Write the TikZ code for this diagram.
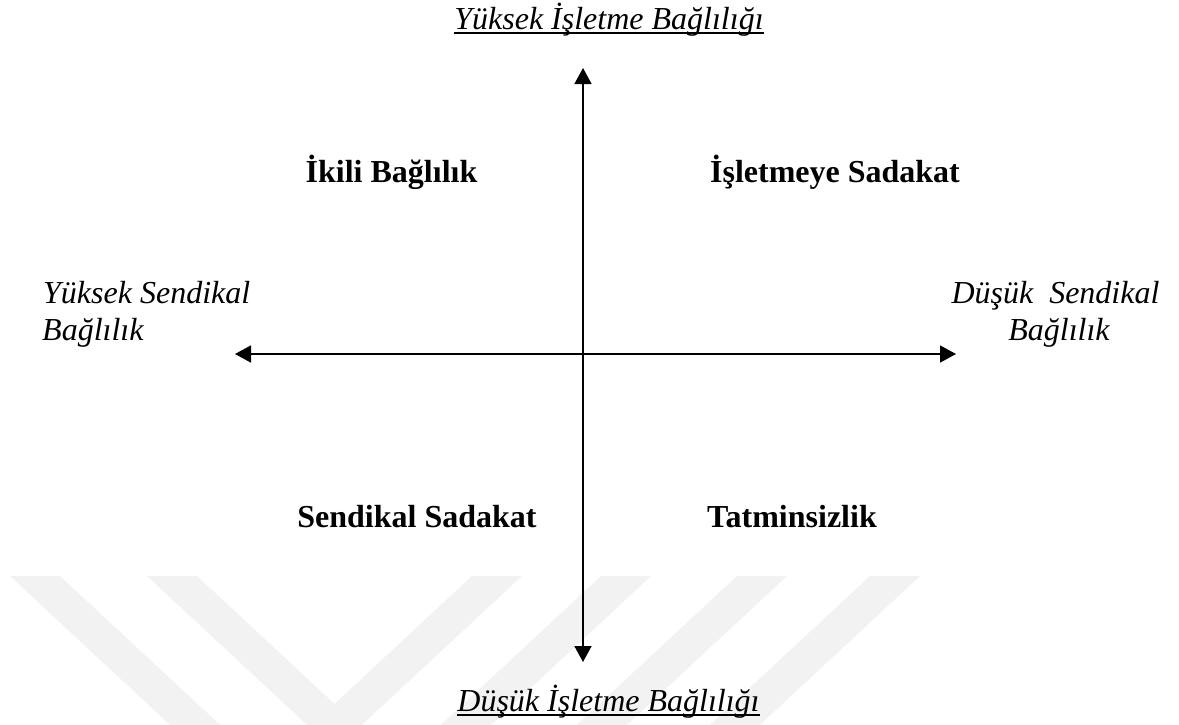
\documentclass[tikz,border=0pt]{standalone}
\usepackage{fontspec}
\setmainfont{Liberation Serif}
\usetikzlibrary{arrows.meta}

\tikzset{
  axis/.style={line width=1.6pt, {Triangle[length=16pt,width=17pt]}-{Triangle[length=16pt,width=17pt]}},
  quad/.style={anchor=base, inner sep=0pt, font=\fontsize{32}{37}\selectfont\bfseries},
  pole/.style={anchor=base, inner sep=0pt, font=\fontsize{32}{37}\selectfont\itshape},
  rule/.style={line width=1.5pt},
  mark stripe/.style={fill=black!5, draw=none}
}

\begin{document}
\begin{tikzpicture}[x=1pt, y=-1pt]
  \useasboundingbox (0,0) rectangle (1179,724);

  % faint background stripes
  \begin{scope}
    \clip (0,0) rectangle (1179,724);
    \foreach \s in {10,147}
      \fill[mark stripe] (\s,576) -- (\s+50,576) -- (\s+50+215,776) -- (\s+215,776) -- cycle;
    \foreach \s in {472,601,737,870}
      \fill[mark stripe] (\s,576) -- (\s+50,576) -- (\s+50-215,776) -- (\s-215,776) -- cycle;
  \end{scope}

  % axis end points
  \coordinate (top) at (583,68);
  \coordinate (bottom) at (583,662);
  \coordinate (left) at (235,354);
  \coordinate (right) at (956,354);

  \draw[axis] (bottom) -- (top);
  \draw[axis] (left) -- (right);

  % poles of the vertical axis
  \node[pole] (hiF) at (609,29) {Yüksek İşletme Bağlılığı};
  \draw[rule] ([yshift=-4pt]hiF.base west) -- ([yshift=-4pt]hiF.base east);
  \node[pole] (loF) at (608.5,711) {Düşük İşletme Bağlılığı};
  \draw[rule] ([yshift=-4pt]loF.base west) -- ([yshift=-4pt]loF.base east);

  % poles of the horizontal axis
  \node[pole, anchor=base west] (hiU1) at (43,303) {Yüksek Sendikal};
  \node[pole, anchor=base west] (hiU2) at (42,340) {Bağlılık};
  \node[pole] (loU1) at (1055.5,303) {Düşük\ \ Sendikal};
  \node[pole] (loU2) at (1059,340) {Bağlılık};

  % quadrants
  \node[quad] (q1) at (391.5,182) {İkili Bağlılık};
  \node[quad] (q2) at (835,182) {İşletmeye Sadakat};
  \node[quad] (q3) at (417,527) {Sendikal Sadakat};
  \node[quad] (q4) at (792,527) {Tatminsizlik};
\end{tikzpicture}
\end{document}
